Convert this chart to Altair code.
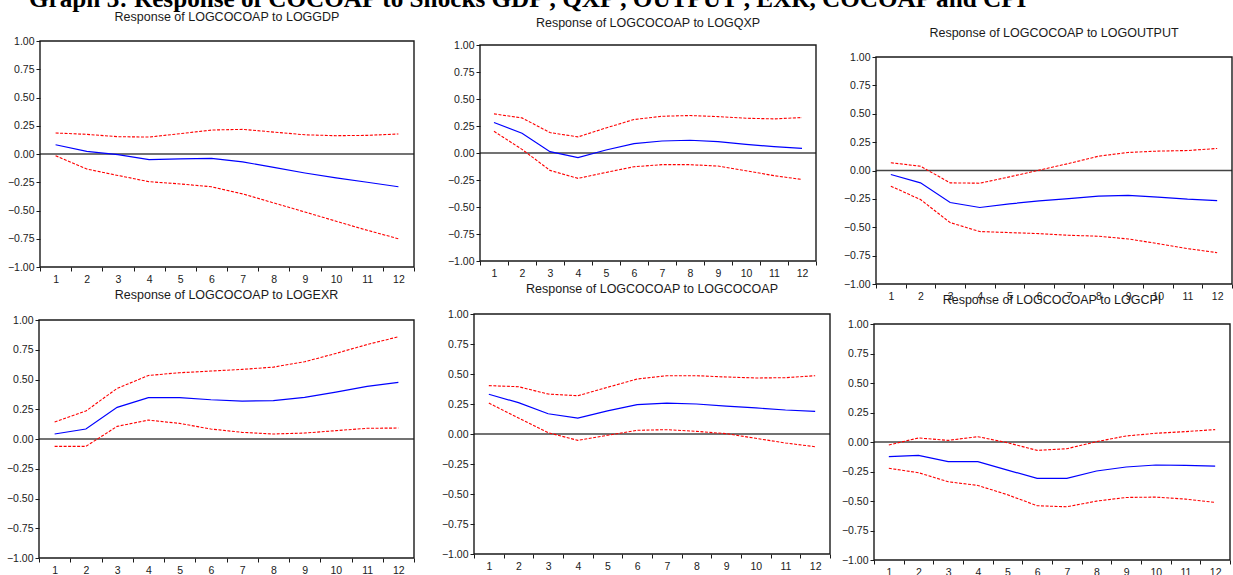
import altair as alt
import pandas as pd

W, H = 1233, 575

MAIN_TITLE = "Graph 3: Response of COCOAP to Shocks GDP , QXP , OUTPUT , EXR, COCOAP and CPI"
PERIODS = list(range(1, 13))
X_TICKS = [0.5 + 0.5 * i for i in range(25)]
Y_TICKS = [-1.0, -0.75, -0.5, -0.25, 0.0, 0.25, 0.5, 0.75, 1.0]

TITLES = [
    "Response of LOGCOCOAP to LOGGDP",
    "Response of LOGCOCOAP to LOGQXP",
    "Response of LOGCOCOAP to LOGOUTPUT",
    "Response of LOGCOCOAP to LOGEXR",
    "Response of LOGCOCOAP to LOGCOCOAP",
    "Response of LOGCOCOAP to LOGCPI",
]

# Response of LOGCOCOAP to LOGGDP
GDP_RESP = [0.082, 0.024, -0.006, -0.05, -0.044, -0.038, -0.07, -0.118, -0.168, -0.212, -0.25, -0.29]
GDP_HI = [0.186, 0.174, 0.153, 0.15, 0.18, 0.212, 0.218, 0.194, 0.17, 0.162, 0.165, 0.177]
GDP_LO = [-0.015, -0.133, -0.19, -0.245, -0.265, -0.29, -0.353, -0.433, -0.513, -0.595, -0.675, -0.75]

# Response of LOGCOCOAP to LOGQXP
QXP_RESP = [0.282, 0.183, 0.012, -0.043, 0.028, 0.087, 0.111, 0.118, 0.105, 0.08, 0.059, 0.043]
QXP_HI = [0.362, 0.325, 0.189, 0.149, 0.232, 0.31, 0.34, 0.347, 0.337, 0.322, 0.316, 0.328]
QXP_LO = [0.201, 0.034, -0.161, -0.235, -0.18, -0.127, -0.108, -0.108, -0.121, -0.164, -0.21, -0.245]

# Response of LOGCOCOAP to LOGOUTPUT
OUT_RESP = [-0.035, -0.109, -0.282, -0.326, -0.294, -0.268, -0.247, -0.226, -0.22, -0.235, -0.253, -0.265]
OUT_HI = [0.068, 0.038, -0.109, -0.112, -0.056, 0.003, 0.062, 0.126, 0.159, 0.171, 0.176, 0.194]
OUT_LO = [-0.138, -0.256, -0.459, -0.538, -0.547, -0.556, -0.571, -0.579, -0.603, -0.644, -0.688, -0.724]

# Response of LOGCOCOAP to LOGEXR
EXR_RESP = [0.042, 0.084, 0.266, 0.347, 0.347, 0.33, 0.319, 0.322, 0.35, 0.394, 0.442, 0.476]
EXR_HI = [0.143, 0.235, 0.425, 0.534, 0.557, 0.571, 0.585, 0.604, 0.649, 0.719, 0.794, 0.859]
EXR_LO = [-0.062, -0.062, 0.106, 0.159, 0.131, 0.084, 0.056, 0.042, 0.05, 0.07, 0.09, 0.092]

# Response of LOGCOCOAP to LOGCOCOAP
COC_RESP = [0.331, 0.261, 0.169, 0.133, 0.192, 0.244, 0.258, 0.25, 0.233, 0.217, 0.2, 0.189]
COC_HI = [0.403, 0.394, 0.333, 0.319, 0.389, 0.458, 0.486, 0.486, 0.475, 0.467, 0.469, 0.486]
COC_LO = [0.258, 0.133, 0.011, -0.053, -0.011, 0.031, 0.036, 0.022, 0.003, -0.036, -0.075, -0.106]

# Response of LOGCOCOAP to LOGCPI
CPI_RESP = [-0.124, -0.113, -0.167, -0.167, -0.238, -0.308, -0.308, -0.246, -0.212, -0.195, -0.198, -0.204]
CPI_HI = [-0.025, 0.034, 0.014, 0.045, -0.006, -0.071, -0.057, 0.003, 0.051, 0.074, 0.088, 0.105]
CPI_LO = [-0.223, -0.26, -0.337, -0.368, -0.447, -0.54, -0.549, -0.501, -0.47, -0.467, -0.484, -0.512]

# layout: (x range of plot, y range [bottom, top], title baseline offset)
LAYOUT = [
    ([40, 414], [267, 41], -20),
    ([480, 816], [261, 45], -18),
    ([876, 1232], [284, 57], -20),
    ([39, 414], [558, 320], -21),
    ([474, 830], [554, 314], -21),
    ([874, 1230], [560, 324], -20),
]

SERIES = [
    (GDP_RESP, GDP_LO, GDP_HI),
    (QXP_RESP, QXP_LO, QXP_HI),
    (OUT_RESP, OUT_LO, OUT_HI),
    (EXR_RESP, EXR_LO, EXR_HI),
    (COC_RESP, COC_LO, COC_HI),
    (CPI_RESP, CPI_LO, CPI_HI),
]

FONT = "Liberation Sans"
INK = "#1a1a1a"


def panel(title, resp, lo, hi, xr, yr, tdy):
    df = pd.DataFrame({"period": PERIODS, "resp": resp, "lo": lo, "hi": hi})
    xs = alt.Scale(domain=[0.5, 12.5], range=xr, nice=False, zero=False)
    ys = alt.Scale(domain=[-1, 1], range=yr, nice=False, zero=False)
    xa = alt.Axis(
        orient="bottom", offset=yr[0] - H, values=X_TICKS, title=None,
        labelExpr="datum.value % 1 == 0 ? format(datum.value, 'd') : ''",
        tickOpacity={"condition": {"test": "datum.value % 1 != 0", "value": 1}, "value": 0},
        tickSize=4, tickColor=INK, tickWidth=1, domain=False, grid=False,
        labelFont=FONT, labelFontSize=10.5, labelColor=INK, labelPadding=3,
        labelOverlap=False, labelFlush=False,
    )
    ya = alt.Axis(
        orient="left", offset=-xr[0], values=Y_TICKS, format=".2f", title=None,
        tickSize=4, tickColor=INK, tickWidth=1, domain=False, grid=False,
        labelFont=FONT, labelFontSize=10.5, labelColor=INK, labelPadding=2,
        labelOverlap=False,
    )
    x = alt.X("period:Q", scale=xs, axis=xa)
    base = alt.Chart(df)
    resp_line = base.mark_line(color="#0000ff", strokeWidth=1.2).encode(
        x=x, y=alt.Y("resp:Q", scale=ys, axis=ya))
    hi_line = base.mark_line(color="#ff0000", strokeWidth=1.1, strokeDash=[3, 1.5]).encode(
        x=x, y=alt.Y("hi:Q", scale=ys, axis=ya))
    lo_line = base.mark_line(color="#ff0000", strokeWidth=1.1, strokeDash=[3, 1.5]).encode(
        x=x, y=alt.Y("lo:Q", scale=ys, axis=ya))
    one = pd.DataFrame({"label": [title]})
    frame = alt.Chart(one).mark_rect(fillOpacity=0, stroke=INK, strokeWidth=1.4).encode(
        x=alt.XDatum(0.5), x2=alt.X2Datum(12.5), y=alt.YDatum(-1), y2=alt.Y2Datum(1))
    zero = alt.Chart(one).mark_rule(color="#444444", strokeWidth=1.4).encode(
        x=alt.XDatum(0.5), x2=alt.X2Datum(12.5), y=alt.YDatum(0))
    ttl = alt.Chart(one).mark_text(
        font=FONT, fontSize=12.5, color=INK, align="center", baseline="alphabetic", dy=tdy
    ).encode(x=alt.XDatum(6.5), y=alt.YDatum(1), text="label:N")
    return alt.layer(zero, lo_line, hi_line, resp_line, frame, ttl)


panels = []
for t, (r, lo, hi), (xr, yr, tdy) in zip(TITLES, SERIES, LAYOUT):
    panels.append(panel(t, r, lo, hi, xr, yr, tdy))

main_title = alt.Chart(pd.DataFrame({"t": [MAIN_TITLE]})).mark_text(
    font="Liberation Serif", fontWeight="bold", fontSize=25.2, color="#000000",
    align="left", baseline="alphabetic"
).encode(x=alt.value(29), y=alt.value(7), text="t:N")

chart = alt.layer(main_title, *panels).resolve_scale(
    x="independent", y="independent"
).properties(
    width=W, height=H, padding=0,
    autosize=alt.AutoSizeParams(type="none"),
    background="white",
).configure_view(strokeWidth=0)

chart.save("out.html", embed_options={"renderer": "svg", "actions": False})
